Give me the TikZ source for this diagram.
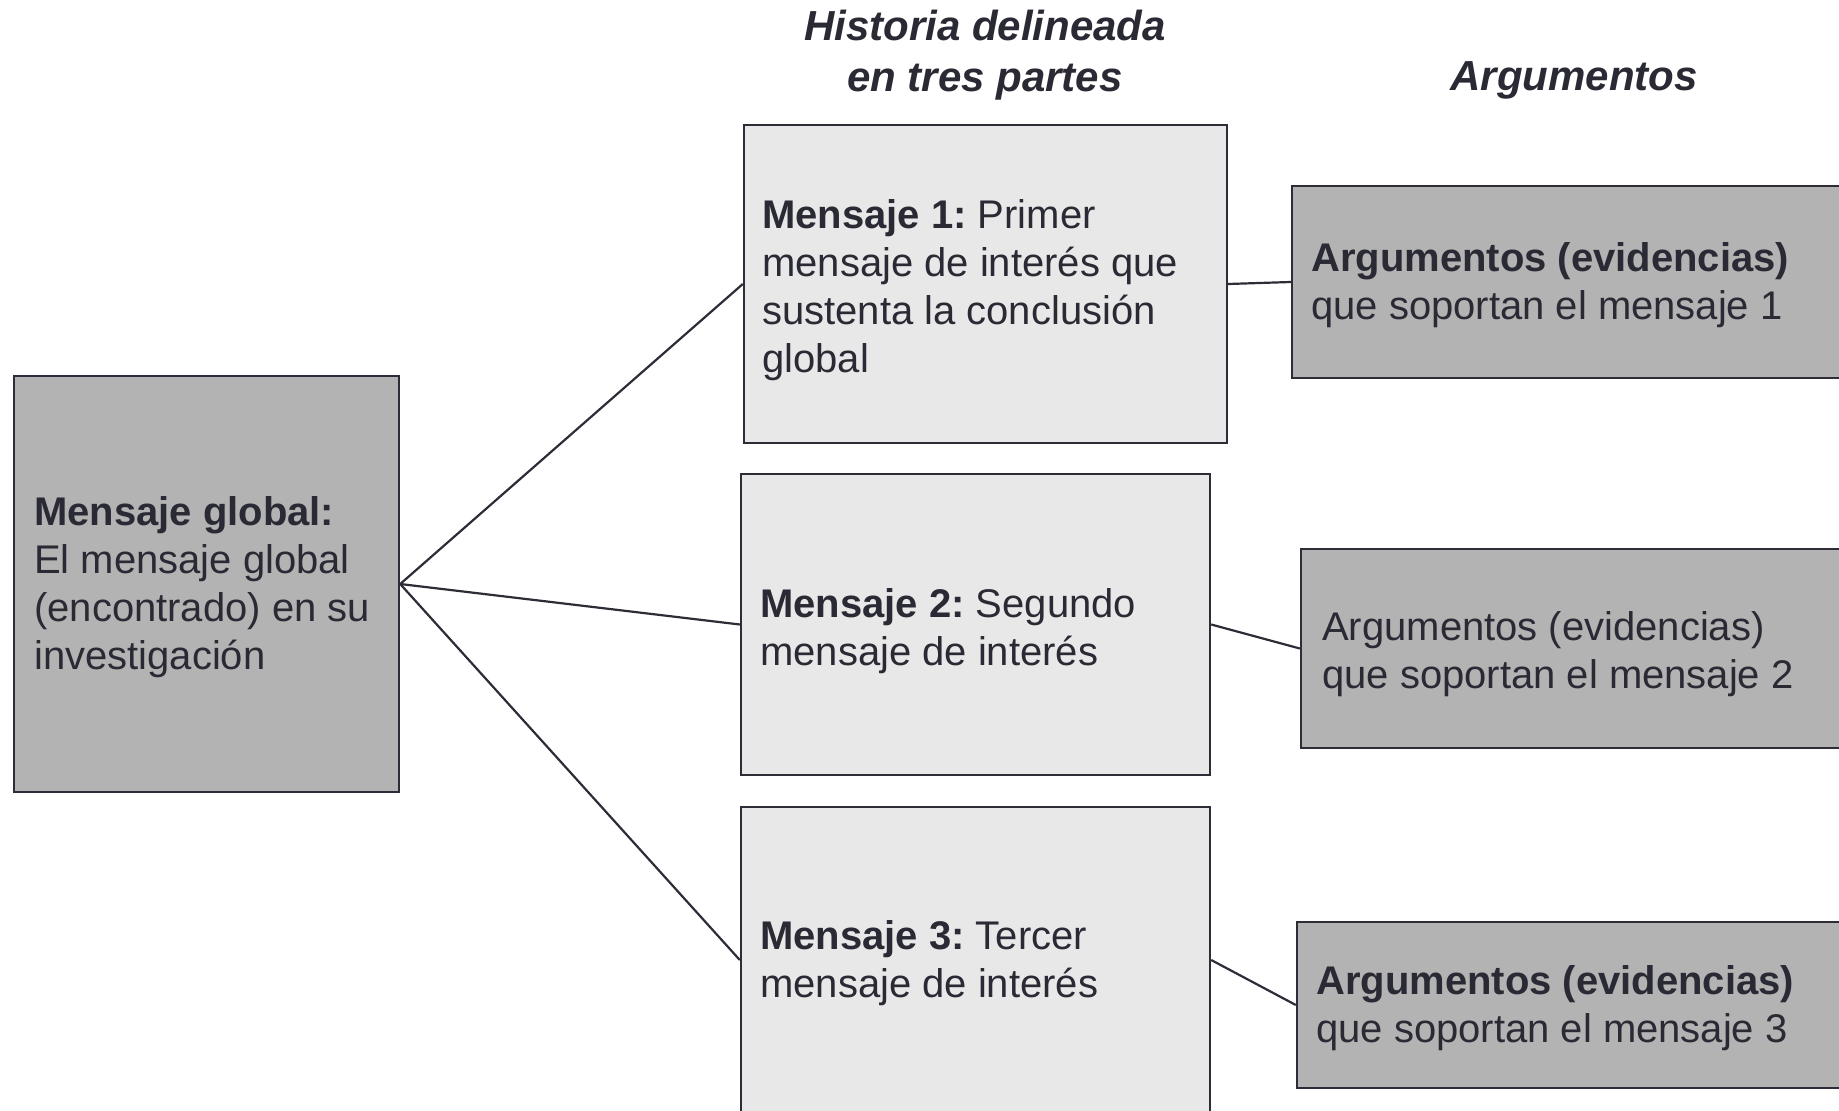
\documentclass[tikz,border=0pt]{standalone}
\usepackage{fontspec}
\setmainfont{Liberation Sans}
\definecolor{ink}{HTML}{2A2A35}
\definecolor{edge}{HTML}{2D2D38}
\definecolor{darkfill}{HTML}{B3B3B3}
\definecolor{lightfill}{HTML}{E8E8E8}
\begin{document}
\begin{tikzpicture}[x=0.5pt,y=-0.5pt,
 box/.style={draw=edge, line width=1.2pt, rectangle, inner sep=0pt},
 darkbox/.style={box, fill=darkfill},
 lightbox/.style={box, fill=lightfill},
 txt/.style={anchor=west, align=left, inner sep=0pt, text=ink, font=\fontsize{20pt}{24pt}\selectfont\frenchspacing},
 head/.style={align=center, inner sep=0pt, text=ink, font=\fontsize{21pt}{25.5pt}\selectfont\bfseries\itshape},
 link/.style={draw=edge, line width=1.1pt}]
\useasboundingbox (0,0) rectangle (1839,1111);
\clip (0,0) rectangle (1839,1111);
\fill[white] (0,0) rectangle (1839,1111);

% headers
\node[head] (H1) at (985,55.5) {Historia delineada\\en tres partes};
\node[head] (H2) at (1574,80.5) {Argumentos};

% boxes
\node[darkbox, minimum width=192.5pt, minimum height=208pt] (G) at (206.5,584) {};
\node[lightbox, minimum width=241.5pt, minimum height=159pt] (M1) at (985.5,284) {};
\node[lightbox, minimum width=234.5pt, minimum height=150.5pt] (M2) at (975.5,624.5) {};
\node[lightbox, minimum width=234.5pt, minimum height=153pt] (M3) at (975.5,960) {};
\node[darkbox, minimum width=284pt, minimum height=96pt] (A1) at (1576,282) {};
\node[darkbox, minimum width=279.5pt, minimum height=99.5pt] (A2) at (1580.5,648.5) {};
\node[darkbox, minimum width=281.5pt, minimum height=83pt] (A3) at (1578.5,1005) {};

% texts
\node[txt] (Gt) at ([xshift=10.5pt,yshift=-1.75pt]G.west) {\textbf{Mensaje global:}\\El mensaje global\\(encontrado) en su\\investigación};
\node[txt] (M1t) at ([xshift=9.5pt,yshift=-3.25pt]M1.west) {\textbf{Mensaje 1:} Primer\\mensaje de interés que\\sustenta la conclusión\\global};
\node[txt] (M2t) at ([xshift=10pt,yshift=-3.2pt]M2.west) {\textbf{Mensaje 2:} Segundo\\mensaje de interés};
\node[txt] (M3t) at ([xshift=10pt,yshift=-1.75pt]M3.west) {\textbf{Mensaje 3:} Tercer\\mensaje de interés};
\node[txt] (A1t) at ([xshift=10pt,yshift=-1.75pt]A1.west) {\textbf{Argumentos (evidencias)}\\que soportan el mensaje 1};
\node[txt] (A2t) at ([xshift=11pt,yshift=-2.9pt]A2.west) {Argumentos (evidencias)\\que soportan el mensaje 2};
\node[txt] (A3t) at ([xshift=10pt,yshift=-1.75pt]A3.west) {\textbf{Argumentos (evidencias)}\\que soportan el mensaje 3};

% connectors
\draw[link] (G.east) -- (M1.west);
\draw[link] (G.east) -- (M2.west);
\draw[link] (G.east) -- (M3.west);
\draw[link] (M1.east) -- (A1.west);
\draw[link] (M2.east) -- (A2.west);
\draw[link] (M3.east) -- (A3.west);
\end{tikzpicture}
\end{document}
